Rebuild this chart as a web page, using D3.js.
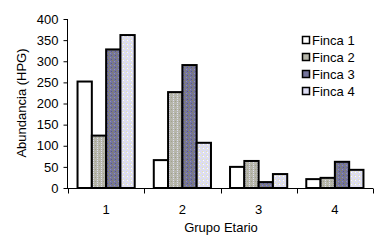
<!DOCTYPE html>
<html><head><meta charset="utf-8">
<script src="https://cdn.jsdelivr.net/npm/d3@7"></script>
<style>body{margin:0;background:#fff}svg{display:block;font-family:"Liberation Sans",Arial,sans-serif}</style>
</head><body>
<script>
const categories = ["1","2","3","4"];
const seriesNames = ["Finca 1","Finca 2","Finca 3","Finca 4"];
const finca1 = [252, 66, 50, 21];
const finca2 = [124, 227, 64, 24];
const finca3 = [328, 291, 14, 62];
const finca4 = [362, 107, 33, 43];
const yTicks = [0,50,100,150,200,250,300,350,400];
const seriesValues = [finca1, finca2, finca3, finca4];

const W = 383, H = 246;
const svg = d3.select("body").append("svg").attr("width", W).attr("height", H);
const defs = svg.append("defs");

function pat(id, base, dots) {
  const p = defs.append("pattern").attr("id", id).attr("width", 4).attr("height", 4).attr("patternUnits", "userSpaceOnUse");
  p.append("rect").attr("width", 4).attr("height", 4).attr("fill", base);
  dots.forEach(d => p.append("rect").attr("x", d[0]).attr("y", d[1]).attr("width", 1).attr("height", 1).attr("fill", d[2]));
}
pat("p2", "#b6b6aa", [[1,0,"#dcdcf0"],[1,2,"#dcdcf0"],[3,1,"#a0a090"]]);
pat("p3", "#74749c", [[0,0,"#8a8a50"],[2,1,"#9090b8"],[1,2,"#8a8a50"],[3,3,"#5c5c80"]]);
pat("p4", "#dcdcf2", [[0,1,"#f0f0c0"],[2,3,"#e8e8a8"],[3,0,"#ffffff"]]);
const fills = ["#ffffff", "url(#p2)", "url(#p3)", "url(#p4)"];
const legendFills = ["#ffffff", "#b6b6aa", "#74749c", "#dcdcf2"];

const x0 = d3.scaleBand().domain(categories).range([68, 373]).paddingInner(0.25).paddingOuter(0.125);
const x1 = d3.scaleBand().domain(seriesNames).range([0, x0.bandwidth()]);
const y = d3.scaleLinear().domain([0, 400]).range([188, 19]);

// bars
categories.forEach((c, ci) => {
  seriesNames.forEach((s, si) => {
    const v = seriesValues[si][ci];
    svg.append("rect")
      .attr("x", x0(c) + x1(s))
      .attr("y", y(v))
      .attr("width", x1.bandwidth())
      .attr("height", y(0) - y(v))
      .attr("fill", fills[si])
      .attr("stroke", "#000").attr("stroke-width", 2);
  });
});

// y axis
const yAxis = d3.axisLeft(y).tickValues(yTicks).tickSize(4).tickPadding(5);
const gy = svg.append("g").attr("transform", "translate(67.5,0)").call(yAxis);
gy.select(".domain").attr("stroke", "#000").attr("d", `M0,${y(400)}V${y(0)}`);
gy.selectAll(".tick line").attr("stroke", "#000");
gy.selectAll("text").attr("font-size", 13).attr("font-family", "Liberation Sans, Arial, sans-serif").attr("fill", "#000");

// x axis
const xEdge = d3.scaleLinear().domain([0, 4]).range([68, 373]);
const gx = svg.append("g").attr("transform", "translate(0,188.5)");
gx.append("line").attr("x1", 67).attr("x2", 373).attr("stroke", "#000").attr("stroke-width", 1);
d3.range(5).forEach(i => gx.append("line").attr("x1", Math.round(xEdge(i)) + 0.5).attr("x2", Math.round(xEdge(i)) + 0.5).attr("y1", 0).attr("y2", 5).attr("stroke", "#000"));
const xAxis = d3.axisBottom(x0).tickSize(0).tickPadding(0);
const gx2 = svg.append("g").attr("transform", "translate(0,205)").call(xAxis);
gx2.select(".domain").remove();
gx2.selectAll("text").attr("font-size", 13).attr("font-family", "Liberation Sans, Arial, sans-serif").attr("fill", "#000");

// axis titles
svg.append("text").attr("x", 221).attr("y", 232).attr("text-anchor", "middle").attr("font-size", 13).attr("fill", "#000").text("Grupo Etario");
svg.append("text").attr("transform", "translate(26,103) rotate(-90)").attr("text-anchor", "middle").attr("font-size", 13).attr("fill", "#000").text("Abundancia (HPG)");

// legend
const lg = svg.append("g").attr("transform", "translate(302,40)");
seriesNames.forEach((s, i) => {
  const g = lg.append("g").attr("transform", `translate(0,${i * 17})`);
  g.append("rect").attr("x", 0.5).attr("y", -3.5).attr("width", 7).attr("height", 7).attr("fill", legendFills[i]).attr("stroke", "#000").attr("stroke-width", 1.5);
  g.append("text").attr("x", 10).attr("y", 0).attr("dy", "0.35em").attr("font-size", 13).attr("fill", "#000").text(s);
});
</script>
</body></html>
